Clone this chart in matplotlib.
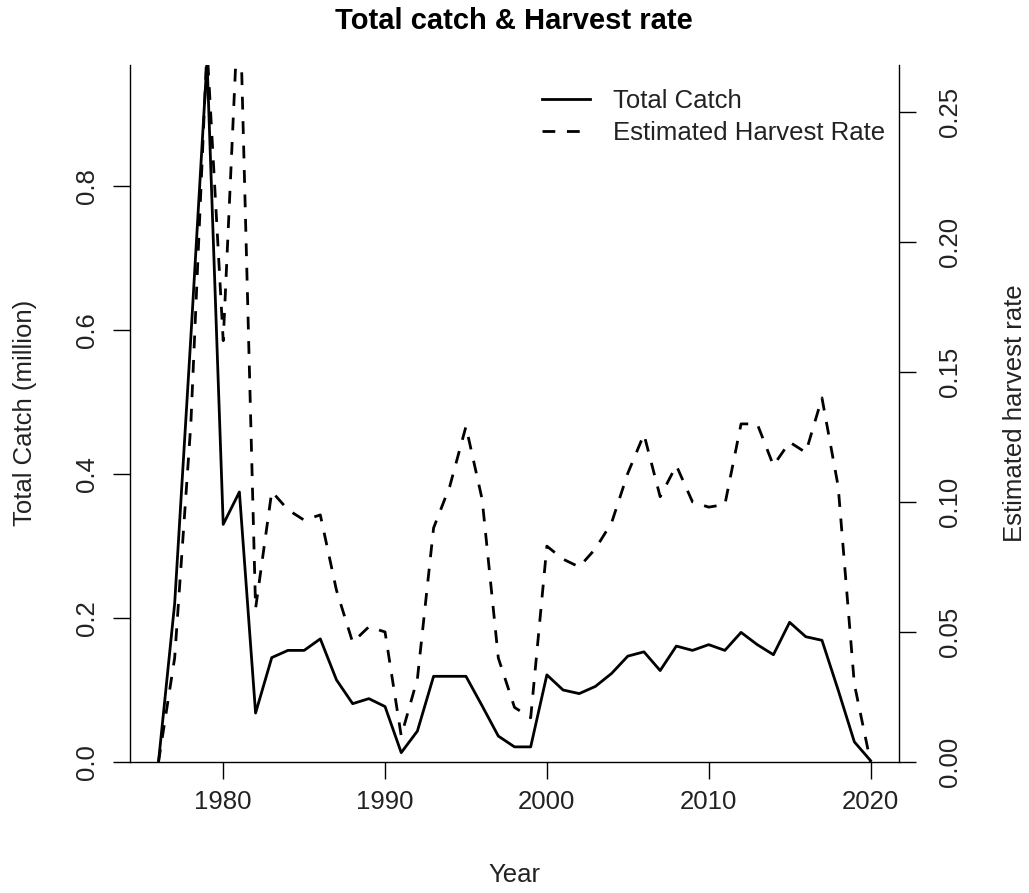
import matplotlib
matplotlib.use("Agg")
import matplotlib.pyplot as plt
from matplotlib.lines import Line2D
from matplotlib.ticker import FormatStrFormatter

plt.rcParams['font.family'] = ['Liberation Sans', 'DejaVu Sans']

years = list(range(1976, 2021))
total_catch = [0.0, 0.22, 0.59, 0.975, 0.33, 0.375, 0.068, 0.145, 0.155, 0.155,
               0.171, 0.114, 0.081, 0.088, 0.077, 0.013, 0.043, 0.119, 0.119, 0.119,
               0.078, 0.036, 0.021, 0.021, 0.121, 0.100, 0.095, 0.105, 0.123, 0.147,
               0.153, 0.127, 0.161, 0.155, 0.163, 0.155, 0.180, 0.163, 0.149, 0.194,
               0.174, 0.169, 0.100, 0.028, 0.002]
harvest_rate = [0.0, 0.04, 0.13, 0.275, 0.162, 0.30, 0.059, 0.104, 0.097, 0.093,
                0.095, 0.066, 0.046, 0.052, 0.050, 0.010, 0.032, 0.090, 0.106, 0.129,
                0.101, 0.040, 0.021, 0.017, 0.083, 0.078, 0.075, 0.082, 0.092, 0.111,
                0.126, 0.102, 0.114, 0.100, 0.098, 0.099, 0.130, 0.130, 0.114, 0.123,
                0.119, 0.140, 0.106, 0.030, 0.0]
catch_ticks = [0.0, 0.2, 0.4, 0.6, 0.8]
rate_ticks = [0.0, 0.05, 0.10, 0.15, 0.20, 0.25]
year_ticks = [1980, 1990, 2000, 2010, 2020]

W, H = 1029, 893
fig = plt.figure(figsize=(W / 100, H / 100), dpi=100)
ax = fig.add_axes([130 / W, 1 - 762 / H, (899 - 130) / W, (762 - 65) / H])
ax2 = ax.twinx()

fs = 18.5
lw = 2.0
dash = (4.6, 4.2)

ax.plot(years, total_catch, color='black', lw=lw)
ax2.plot(years, harvest_rate, color='black', lw=lw, linestyle=(0, dash))

ax.set_xlim(1974.24, 2021.76)
ax.set_ylim(0, 0.968)
ax2.set_ylim(0, 0.268)

ax.set_xticks(year_ticks)
ax.set_yticks(catch_ticks)
ax2.set_yticks(rate_ticks)
ax.yaxis.set_major_formatter(FormatStrFormatter('%.1f'))
ax2.yaxis.set_major_formatter(FormatStrFormatter('%.2f'))

for a in (ax, ax2):
    a.spines['top'].set_visible(False)
    for s in a.spines.values():
        s.set_linewidth(1.0)
ax.spines['right'].set_visible(False)
ax2.spines['left'].set_visible(False)
ax2.spines['bottom'].set_visible(False)

ax.tick_params(axis='x', direction='out', length=12, width=1, labelsize=fs, pad=8,
               colors='black', labelcolor='#222222')
ax.tick_params(axis='y', direction='out', length=12, width=1, labelsize=fs, pad=10,
               labelrotation=90, labelcolor='#222222')
ax2.tick_params(axis='y', direction='out', length=12, width=1, labelsize=fs, pad=16,
                labelrotation=90, labelcolor='#222222')
for t in ax.get_yticklabels() + ax2.get_yticklabels():
    t.set_va('center')

fig.text(514 / W, 1 - 21 / H, 'Total catch & Harvest rate', ha='center', va='center',
         fontsize=21, fontweight='bold')
fig.text(514 / W, 1 - 875 / H, 'Year', ha='center', va='center', fontsize=fs,
         color='#222222')
fig.text(25 / W, 1 - 413 / H, 'Total Catch (million)', ha='center', va='center',
         rotation=90, fontsize=fs, color='#222222')
fig.text(1015 / W, 1 - 413 / H, 'Estimated harvest rate', ha='center', va='center',
         rotation=90, fontsize=fs, color='#222222')

handles = [Line2D([], [], color='black', lw=lw),
           Line2D([], [], color='black', lw=lw, linestyle=(0, dash))]
ax2.legend(handles, ['Total Catch', 'Estimated Harvest Rate'], loc='upper left',
           bbox_to_anchor=(542 / W, 1 - 89 / H), bbox_transform=fig.transFigure,
           frameon=False, fontsize=fs, handlelength=1.87, handletextpad=0.9,
           borderpad=0, borderaxespad=0, labelspacing=0.3, labelcolor='#222222')

fig.savefig('out.png', dpi=100)
